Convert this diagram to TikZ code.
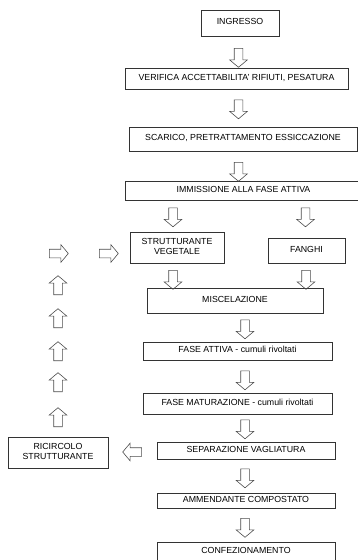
\documentclass[tikz,border=0pt]{standalone}
\usepackage{fontspec}
\setmainfont{Liberation Sans}
\usetikzlibrary{shapes.arrows}

\begin{document}
\begin{tikzpicture}
  [x=1pt,y=-1pt,line width=.6pt,
   box/.style={draw=black!80,inner sep=1pt,align=center,text depth=2.5pt,font=\fontsize{8.8}{10}\selectfont},
   blk/.style={single arrow,draw=black!70,minimum height=19pt,inner sep=4pt,
     single arrow head extend=4.5pt,single arrow tip angle=100}]
  \useasboundingbox (0,0) rectangle (358,560);
  \node[box,minimum width=78pt,minimum height=26pt] (ingresso) at (240,23) {INGRESSO};
  \node[box,minimum width=223pt,minimum height=21pt] (verifica) at (236.5,78.5) {VERIFICA ACCETTABILITA' RIFIUTI, PESATURA};
  \node[box,minimum width=228pt,minimum height=24pt] (scarico) at (243,139) {SCARICO, PRETRATTAMENTO ESSICCAZIONE};
  \node[box,minimum width=237pt,minimum height=19pt] (immissione) at (243.5,190.5) {IMMISSIONE ALLA FASE ATTIVA};
  \node[box,minimum width=94pt,minimum height=31pt] (strutt) at (177,247.5) {STRUTTURANTE\\VEGETALE};
  \node[box,minimum width=77pt,minimum height=25pt] (fanghi) at (306.5,250.5) {FANGHI};
  \node[box,minimum width=176pt,minimum height=25pt] (miscel) at (235,300.5) {MISCELAZIONE};
  \node[box,minimum width=189pt,minimum height=18pt] (attiva) at (237.5,351) {FASE ATTIVA - cumuli rivoltati};
  \node[box,minimum width=189pt,minimum height=21pt] (matur) at (237.5,403.5) {FASE MATURAZIONE - cumuli rivoltati};
  \node[box,minimum width=178pt,minimum height=17pt] (separ) at (246,450.5) {SEPARAZIONE VAGLIATURA};
  \node[box,minimum width=100pt,minimum height=31pt] (ricircolo) at (58,452.5) {RICIRCOLO\\STRUTTURANTE};
  \node[box,minimum width=178pt,minimum height=15pt] (ammend) at (246,500.5) {AMMENDANTE COMPOSTATO};
  \node[box,minimum width=178pt,minimum height=20pt] (confez) at (246,552) {CONFEZIONAMENTO};

  % block arrows
  \foreach \nm/\x/\y/\rot in {d1/238.5/56/270, d2/238.5/107.5/270, d3/238.5/170/270,
      d4/173/215.5/270, d5/305.5/215.5/270, d6/173/278/270, d7/306/278/270,
      d8/245/327.5/270, d9/245/378.5/270, d10/245/427.5/270, d11/245/476.5/270,
      d12/245/526/270, l1/134/452/180, u1/58/419/90, u2/58/384/90, u3/58/353/90,
      u4/58/320/90, u5/58/287/90, r1/57/253.5/0, r2/107/253.5/0}
    \node[blk,shape border rotate=\rot] (\nm) at (\x,\y) {};
\end{tikzpicture}
\end{document}
